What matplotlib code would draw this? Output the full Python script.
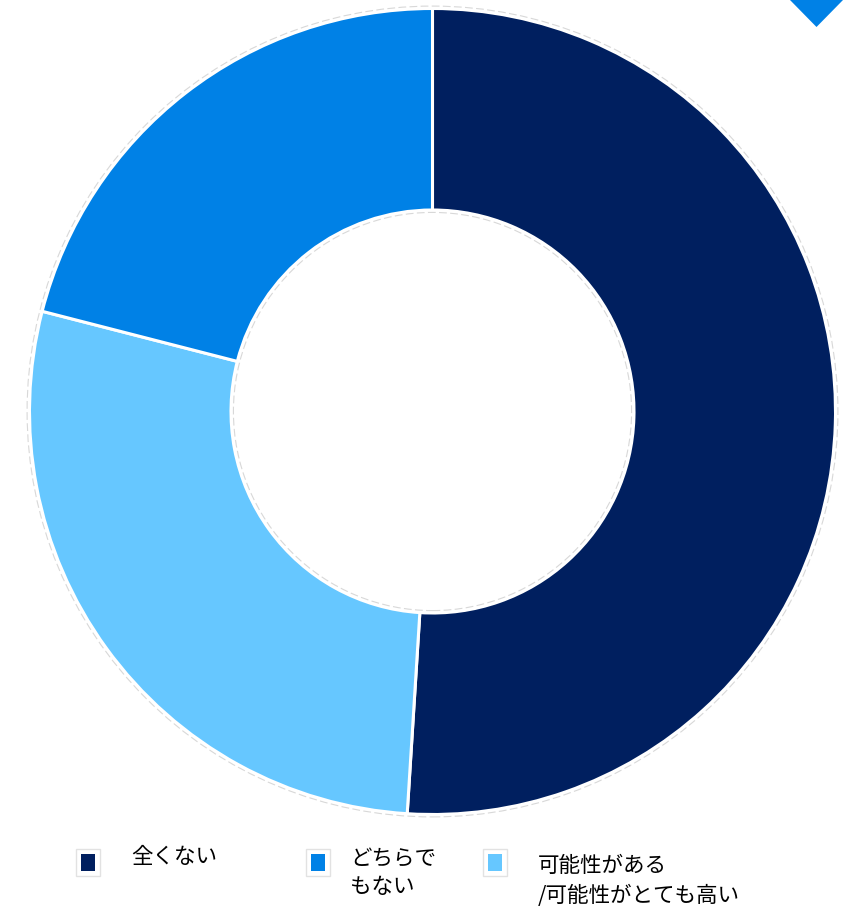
import matplotlib
matplotlib.use('Agg')
import matplotlib.pyplot as plt
from matplotlib.patches import Rectangle, Polygon, Circle

plt.rcParams['font.family'] = ['Noto Sans CJK JP', 'DejaVu Sans']

# share of answers (%), clockwise from 12 o'clock
labels = ['全くない', 'どちらで\nもない', '可能性がある\n/可能性がとても高い']
values = [51, 21, 28]
colors = ['#001F5F', '#0081E6', '#66C7FF']

# draw order around the ring: navy, light blue, mid blue
ring_order = [0, 2, 1]

W, H = 846, 908
fig = plt.figure(figsize=(W / 100, H / 100), dpi=100)


def fx(px):
    return px / W


def fy(py):
    return 1 - py / H


# donut axes: centre (432.5, 411.5) px, radius 403 px
cx, cy, r = 432.5, 411.5, 403
ax = fig.add_axes([fx(cx - r), fy(cy + r), 2 * r / W, 2 * r / H])
ax.pie([values[i] for i in ring_order],
       colors=[colors[i] for i in ring_order],
       startangle=90, counterclock=False, radius=1.0,
       wedgeprops=dict(width=0.5, edgecolor='white', linewidth=2.2))

# faint dashed rim around the ring
for rad in (1.006, 0.494):
    ax.add_patch(Circle((0, 0), rad, fill=False, edgecolor='#d8d8d8',
                        linewidth=0.8, linestyle=(0, (7, 3))))
ax.set_xlim(-1.02, 1.02)
ax.set_ylim(-1.02, 1.02)
ax.set_aspect('equal')
ax.axis('off')
# keep the ring exactly at radius r
ax.set_position([fx(cx - r * 1.02), fy(cy + r * 1.02), 2 * r * 1.02 / W, 2 * r * 1.02 / H])

# corner marker
fig.patches.append(Polygon([(fx(790), fy(0)), (fx(843), fy(0)), (fx(816.5), fy(27))],
                           closed=True, facecolor='#0081E6', edgecolor='none',
                           transform=fig.transFigure))

# legend, laid out by hand
legend_x = [76, 306, 483]
text_x = [131, 350, 538]
text_top = [846, 849, 855]
spacing = [1.3, 1.3, 1.45]
for i in range(3):
    x0 = legend_x[i]
    fig.patches.append(Rectangle((fx(x0), fy(876)), 24 / W, 27 / H,
                                 facecolor='white', edgecolor='#e2e2e2', linewidth=1.0,
                                 transform=fig.transFigure))
    fig.patches.append(Rectangle((fx(x0 + 5), fy(871)), 14 / W, 17 / H,
                                 facecolor=colors[i], edgecolor='none',
                                 transform=fig.transFigure))
    fig.text(fx(text_x[i]), fy(text_top[i]), labels[i], fontsize=15.5,
             ha='left', va='top', color='black', linespacing=spacing[i])

fig.savefig('out.png', dpi=100, facecolor='white')
